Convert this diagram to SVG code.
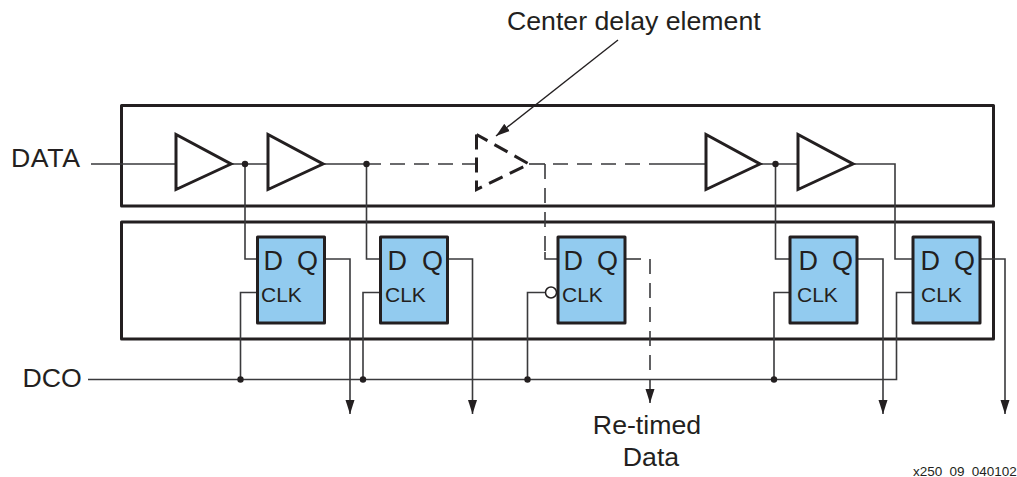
<svg xmlns="http://www.w3.org/2000/svg" width="1017" height="477" viewBox="0 0 1017 477">
<style>
text{font-family:"Liberation Sans",Arial,sans-serif;fill:#231f20}
.lbl{font-size:26.700px}
.dq{font-size:27px}
.clk{font-size:21px}
.box{fill:none;stroke:#231f20;stroke-width:3;stroke-linejoin:round}
.buf{fill:#fff;stroke:#231f20;stroke-width:3;stroke-linejoin:miter}
.dbuf{fill:#fff;stroke:#231f20;stroke-width:3;stroke-dasharray:15 8}
.ff{fill:#92cbef;stroke:#231f20;stroke-width:3;stroke-linejoin:round}
.w{fill:none;stroke:#3a3a3c;stroke-width:1.600}
.d{fill:none;stroke:#3a3a3c;stroke-width:1.600;stroke-dasharray:15 9}
.dot{fill:#231f20}
</style>
<defs>
<marker id="arr" markerUnits="userSpaceOnUse" markerWidth="15" markerHeight="10" refX="14" refY="5" orient="auto" viewBox="0 0 15 10"><path d="M0 .5L14 5L0 9.500Z" fill="#231f20"/></marker>
</defs>
<g id="data-box"><rect class="box" x="121.500" y="105.500" width="872" height="100.500"/></g>
<g id="ff-box"><rect class="box" x="121.500" y="222" width="872" height="117"/></g>
<g id="connectors">
<path class="w" d="M91 164H176M231 164H267M323 164H366"/>
<path class="d" d="M366 164H476"/>
<path class="w" d="M245 164V259H258M366.500 164V259H380M775.500 164V259H790M853 164H895V259H913"/>
<path class="w" d="M760 164H798"/>
<path class="w" d="M529 164H545"/>
<path class="d" d="M545 164V252"/>
<path class="w" d="M545 252V259H558"/>
<path class="d" d="M553 164H652"/>
<path class="w" d="M652 164H706"/>
<path class="w" d="M88 379.500H896.500V292.500H913"/>
<path class="w" d="M240.500 379.500V292.500H258M363 379.500V292.500H380M527.500 379.500V292.500H546M774 379.500V292.500H790"/>
<path class="w" d="M325 259H350V414" marker-end="url(#arr)"/>
<path class="w" d="M447 259H472.500V414" marker-end="url(#arr)"/>
<path class="w" d="M857 259H883V414" marker-end="url(#arr)"/>
<path class="w" d="M980 259H1005V414" marker-end="url(#arr)"/>
<path class="w" d="M625 259H641"/>
<path class="d" d="M650 259V380"/>
<path class="w" d="M650 380V403" marker-end="url(#arr)"/>
<path d="M618 40L496 136" fill="none" stroke="#231f20" stroke-width="1.400" marker-end="url(#arr)"/>
</g>
<g id="junctions">
<circle class="dot" cx="245" cy="164" r="3.200"/><circle class="dot" cx="366.500" cy="164" r="3.200"/><circle class="dot" cx="775.500" cy="164" r="3.200"/>
<circle class="dot" cx="240.500" cy="379.500" r="3.200"/><circle class="dot" cx="363" cy="379.500" r="3.200"/><circle class="dot" cx="527.500" cy="379.500" r="3.200"/><circle class="dot" cx="774" cy="379.500" r="3.200"/>
</g>
<g id="buf1"><path class="buf" d="M176 134.500V189.500L231 164Z"/></g>
<g id="buf2"><path class="buf" d="M268 134.500V189.500L323 164Z"/></g>
<g id="buf3"><path class="dbuf" d="M476.500 134.500V189.500L529 164L476.500 134.500"/></g>
<g id="buf4"><path class="buf" d="M706 134.500V189.500L760 164Z"/></g>
<g id="buf5"><path class="buf" d="M798 134.500V189.500L853 164Z"/></g>
<g id="ff1"><rect class="ff" x="257.500" y="237" width="67" height="86"/><text class="dq" x="263.500" y="270">D</text><text class="dq" x="297" y="270">Q</text><text class="clk" x="261" y="302">CLK</text></g>
<g id="ff2"><rect class="ff" x="380.500" y="237" width="67" height="86"/><text class="dq" x="387.500" y="270">D</text><text class="dq" x="422" y="270">Q</text><text class="clk" x="385" y="302">CLK</text></g>
<g id="ff3"><rect class="ff" x="558" y="237" width="67" height="86"/><text class="dq" x="563.500" y="270">D</text><text class="dq" x="597" y="270">Q</text><text class="clk" x="562" y="302">CLK</text><circle cx="551" cy="292.500" r="5.500" fill="#fff" stroke="#231f20" stroke-width="1.500"/></g>
<g id="ff4"><rect class="ff" x="790" y="237" width="67" height="86"/><text class="dq" x="798.500" y="270">D</text><text class="dq" x="832" y="270">Q</text><text class="clk" x="797" y="302">CLK</text></g>
<g id="ff5"><rect class="ff" x="913" y="237" width="67" height="86"/><text class="dq" x="920.500" y="270">D</text><text class="dq" x="954" y="270">Q</text><text class="clk" x="921" y="302">CLK</text></g>
<g id="labels">
<text class="lbl" x="11" y="167" letter-spacing=".6">DATA</text>
<text class="lbl" x="22.500" y="387">DCO</text>
<text class="lbl" x="507" y="30">Center delay element</text>
<text class="lbl" text-anchor="middle" x="647" y="434">Re-timed</text>
<text class="lbl" text-anchor="middle" x="651" y="466">Data</text>
<text x="913" y="476" font-size="13.500" word-spacing="3.500">x250 09 040102</text>
</g>
</svg>
